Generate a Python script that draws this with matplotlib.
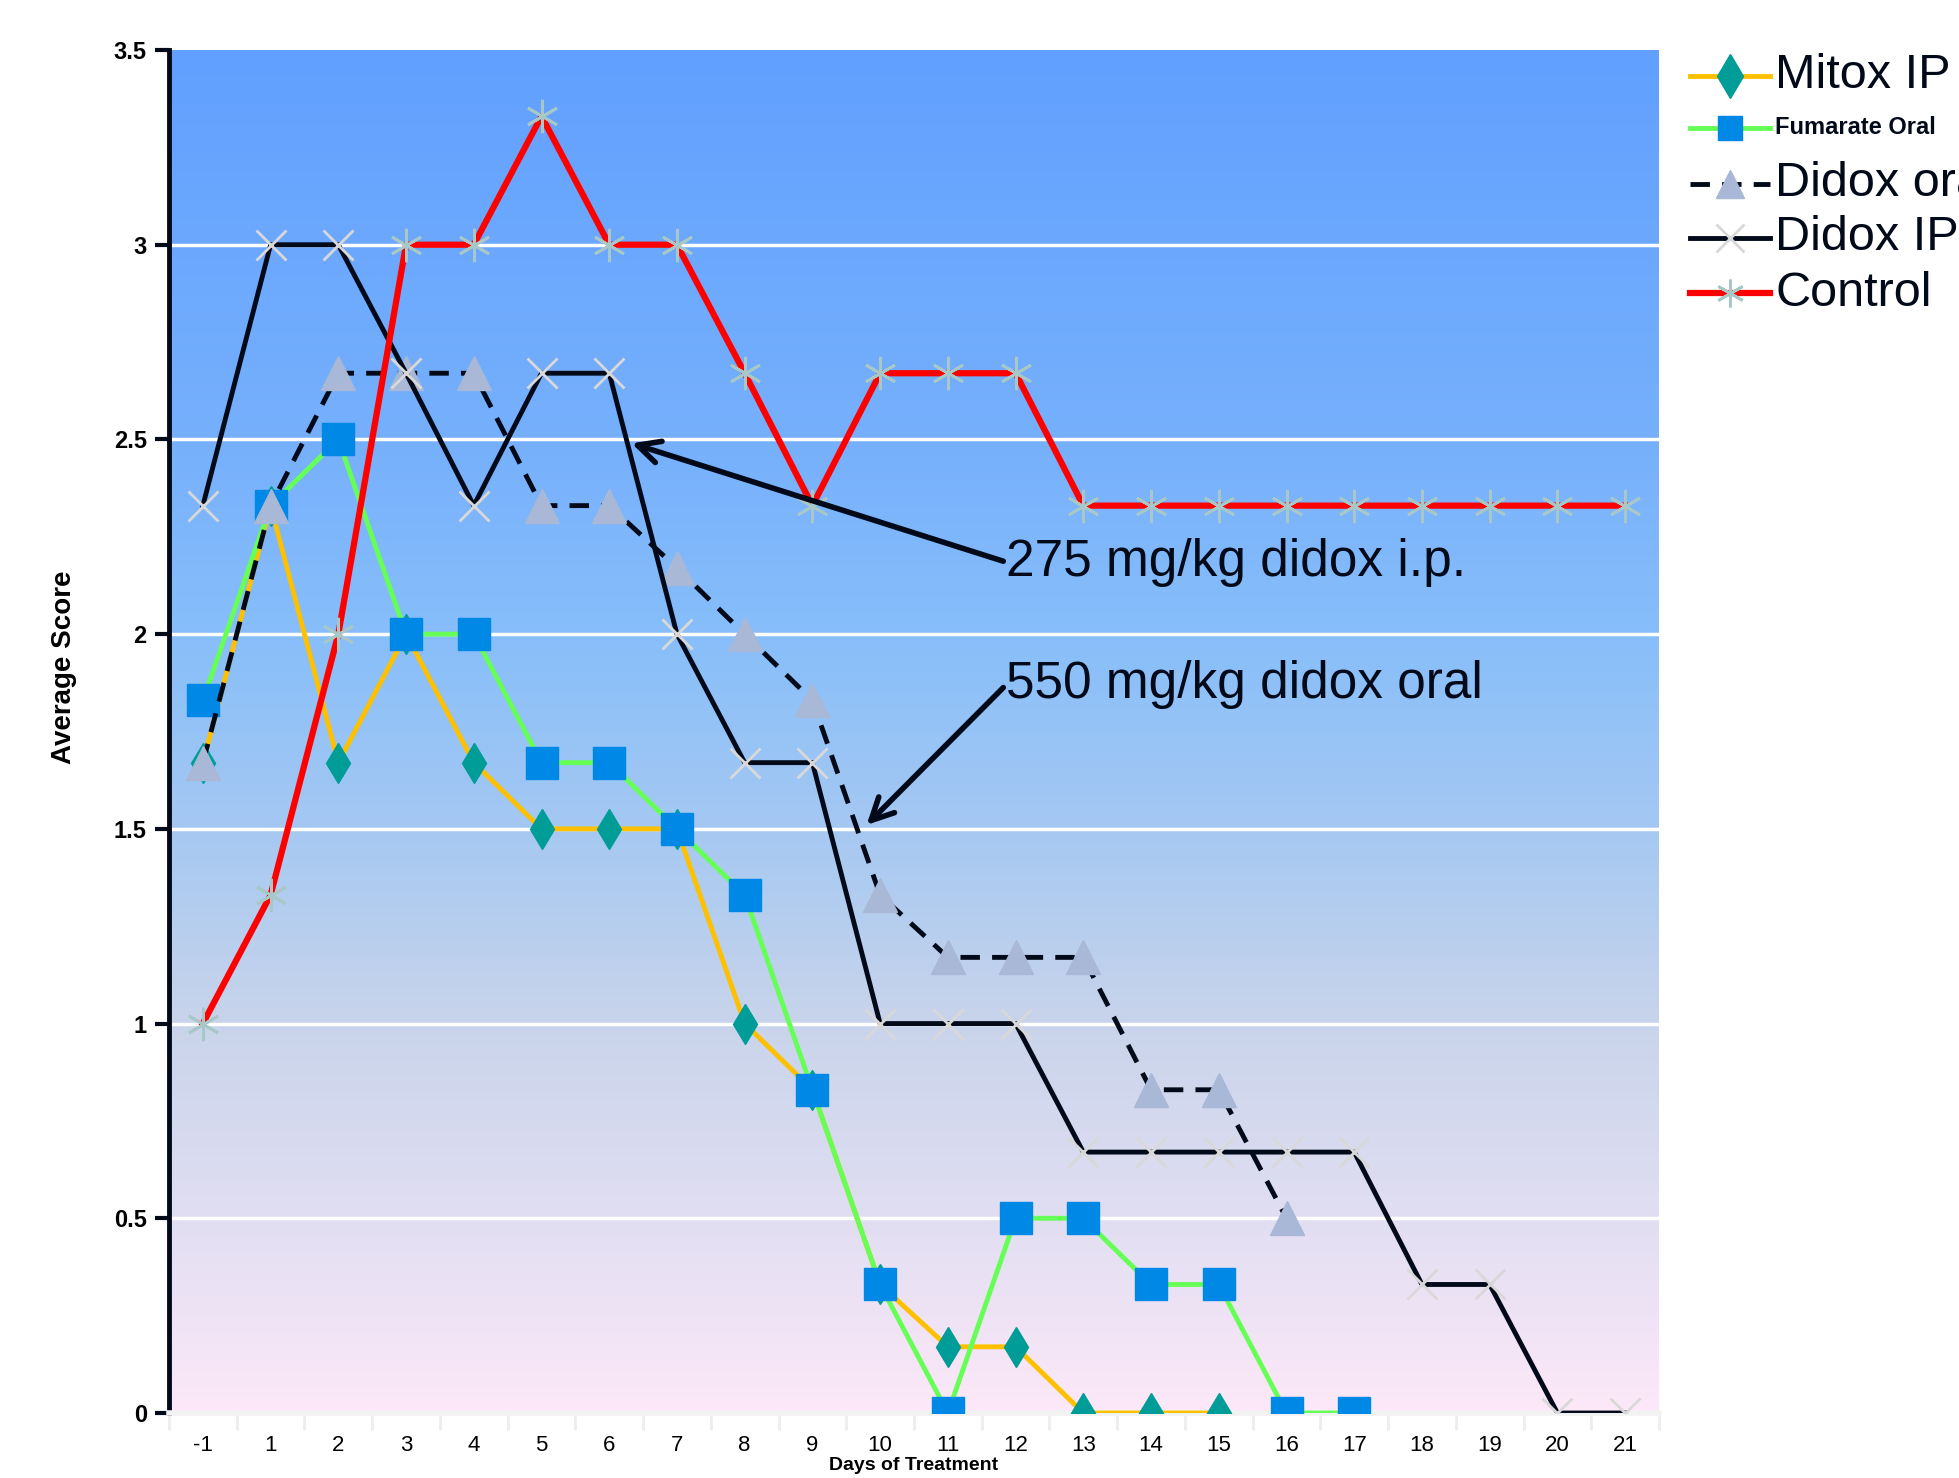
import numpy as np
import matplotlib.pyplot as plt
from matplotlib.colors import LinearSegmentedColormap
from matplotlib.lines import Line2D

plt.rcParams['font.family'] = ['Liberation Sans', 'DejaVu Sans']

days = ['-1', '1', '2', '3', '4', '5', '6', '7', '8', '9', '10',
        '11', '12', '13', '14', '15', '16', '17', '18', '19', '20', '21']

mitox_ip = [1.67, 2.33, 1.67, 2.0, 1.67, 1.5, 1.5, 1.5, 1.0, 0.83, 0.33,
            0.17, 0.17, 0.0, 0.0, 0.0]
fumarate_oral = [1.83, 2.33, 2.5, 2.0, 2.0, 1.67, 1.67, 1.5, 1.33, 0.83, 0.33,
                 0.0, 0.5, 0.5, 0.33, 0.33, 0.0, 0.0]
didox_oral = [1.67, 2.33, 2.67, 2.67, 2.67, 2.33, 2.33, 2.17, 2.0, 1.83, 1.33,
              1.17, 1.17, 1.17, 0.83, 0.83, 0.5]
didox_ip = [2.33, 3.0, 3.0, 2.67, 2.33, 2.67, 2.67, 2.0, 1.67, 1.67, 1.0,
            1.0, 1.0, 0.67, 0.67, 0.67, 0.67, 0.67, 0.33, 0.33, 0.0, 0.0]
control = [1.0, 1.33, 2.0, 3.0, 3.0, 3.33, 3.0, 3.0, 2.67, 2.33, 2.67,
           2.67, 2.67, 2.33, 2.33, 2.33, 2.33, 2.33, 2.33, 2.33, 2.33, 2.33]

series_names = ['Mitox IP', 'Fumarate Oral', 'Didox oral', 'Didox IP', 'Control']
series_values = [mitox_ip, fumarate_oral, didox_oral, didox_ip, control]

y_ticks = [0, 0.5, 1, 1.5, 2, 2.5, 3, 3.5]
y_tick_labels = ['0', '0.5', '1', '1.5', '2', '2.5', '3', '3.5']

# line / marker styles per series
styles = [
    dict(color='#FFC000', lw=3.5, marker='d', mfc='#009C98', mec='#009C98'),
    dict(color='#66FF55', lw=3.5, marker='s', mfc='#0088E6', mec='#0088E6'),
    dict(color='#020A1A', lw=3.5, ls=(0, (4, 2.5)), marker='^', mfc='#A8B8D6', mec='#A8B8D6'),
    dict(color='#020A1A', lw=3.5, marker='x', mew=2, mec='#D8D8D8'),
    dict(color='#FF0000', lw=4.5, marker=(6, 2, 0), mew=2, mec='#A8C8C8'),
]
plot_ms = [20, 23, 24, 22, 24]
legend_ms = [22, 17, 20, 20, 20]

W, H = 1959, 1478
fig = plt.figure(figsize=(W / 100, H / 100), dpi=100)
ax = fig.add_axes([169 / W, 1 - 1413 / H, 1490 / W, 1363 / H])

# gradient background of the plot area
bg = LinearSegmentedColormap.from_list('bg', [
    (0.0, '#FCE8F8'), (0.143, '#E1DEF2'), (0.286, '#C8D4EB'),
    (0.429, '#A5C8F2'), (0.571, '#87BEFA'), (0.714, '#76B0FC'),
    (1.0, '#61A0FF')])
ax.imshow(np.linspace(0, 1, 256).reshape(-1, 1), cmap=bg, origin='lower',
          extent=[-0.5, len(days) - 0.5, 0, 3.5], aspect='auto', zorder=0)

for yv in y_ticks[1:-1]:
    ax.axhline(yv, color='white', lw=2.5, zorder=1)

x = np.arange(len(days))
for i, (vals, st) in enumerate(zip(series_values, styles)):
    ax.plot(x[:len(vals)], vals, ms=plot_ms[i], zorder=3 + i, **st)

arrow = dict(arrowstyle='->', color='#020A1A', lw=4, mutation_scale=40,
             shrinkA=0, shrinkB=0, relpos=(0, 0.5))
ax.annotate('275 mg/kg didox i.p.', xy=(6.33, 2.49), xytext=(11.86, 2.185),
            fontsize=37, va='center', ha='left', color='#020A1A',
            arrowprops=arrow, zorder=9)
ax.annotate('550 mg/kg didox oral', xy=(9.8, 1.51), xytext=(11.86, 1.87),
            fontsize=37, va='center', ha='left', color='#020A1A',
            arrowprops=arrow, zorder=9)

ax.set_xlim(-0.5, len(days) - 0.5)
ax.set_ylim(0, 3.5)
ax.set_xticks(x)
ax.set_xticklabels(days, fontsize=16)
ax.set_xticks(np.arange(-0.5, len(days), 1), minor=True)
ax.tick_params(axis='x', which='major', length=0, pad=16)
ax.tick_params(axis='x', which='minor', length=12, color='#EEEEEE', width=2)
ax.set_yticks(y_ticks)
ax.set_yticklabels(y_tick_labels, fontsize=17, fontweight='bold')
ax.tick_params(axis='y', length=10, width=3, color='#020A1A', pad=6)

for s in ['top', 'right']:
    ax.spines[s].set_visible(False)
ax.spines['left'].set_linewidth(3.5)
ax.spines['left'].set_color('#020A1A')
ax.spines['bottom'].set_color('#F2F2F2')
ax.spines['bottom'].set_linewidth(4)

ax.set_xlabel('Days of Treatment', fontsize=14, fontweight='bold')
ax.xaxis.set_label_coords(0.5, -0.0325)
ax.set_ylabel('Average Score', fontsize=20, fontweight='bold')
ax.yaxis.set_label_coords(-0.062, 0.547)

# legend, drawn by hand so rows sit where the original has them
row_y = [76, 128, 184, 238, 293]
for i, name in enumerate(series_names):
    fy = 1 - row_y[i] / H
    st = dict(styles[i])
    marker = st.pop('marker')
    mfc = st.pop('mfc', 'none')
    mec = st.pop('mec')
    mew = st.pop('mew', 1)
    fig.add_artist(Line2D([1690 / W, 1770 / W], [fy, fy], **st))
    fig.add_artist(Line2D([1730 / W], [fy], marker=marker, ms=legend_ms[i],
                          mfc=mfc, mec=mec, mew=mew, ls='none'))
    if name == 'Fumarate Oral':
        fig.text(1775 / W, fy, name, fontsize=17, fontweight='bold',
                 va='center', ha='left', color='#020A1A')
    else:
        fig.text(1775 / W, fy, name, fontsize=35, va='center', ha='left',
                 color='#020A1A')

fig.savefig('out.png', dpi=100)
